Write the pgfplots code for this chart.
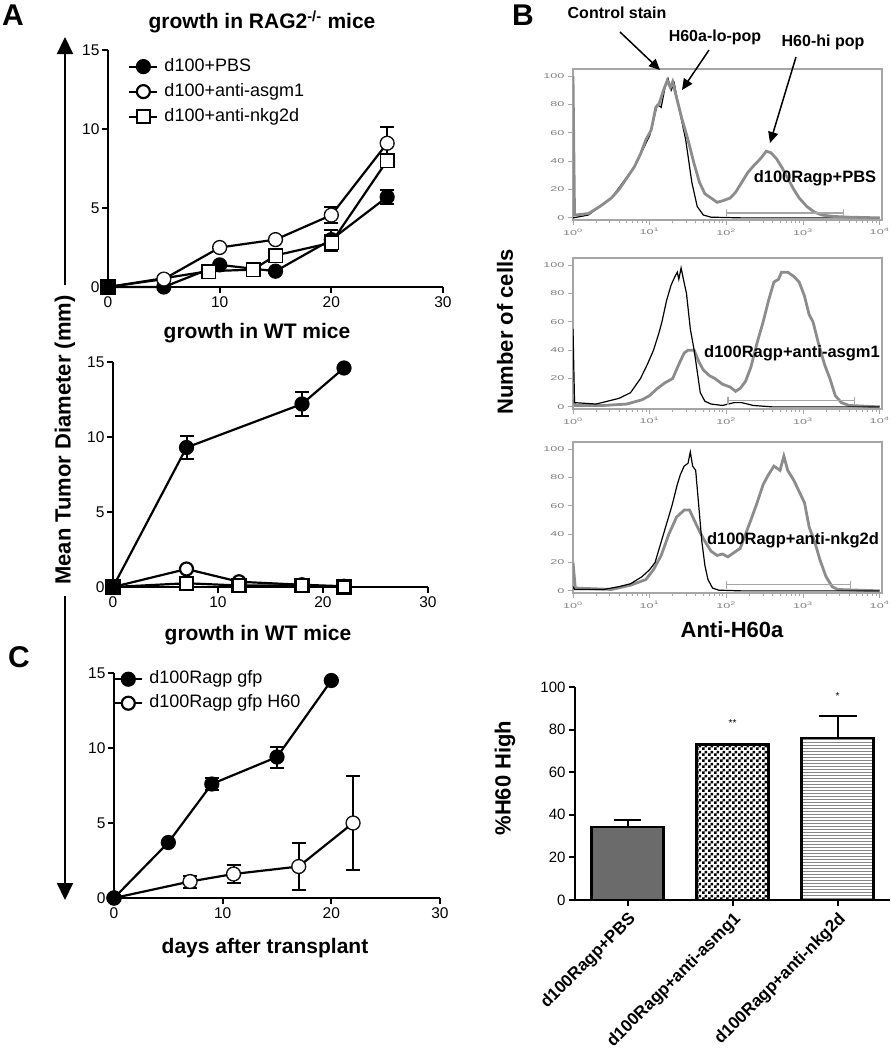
\documentclass[border=0pt]{standalone}
\usepackage{fontspec}
\setmainfont{Liberation Sans}
\usepackage{graphicx}
\usepackage{pgfplots}
\pgfplotsset{compat=1.18}
\usetikzlibrary{arrows.meta,patterns}

\pgfdeclarepatternformonly{mychecker}{\pgfpointorigin}{\pgfqpoint{6pt}{6pt}}{\pgfqpoint{6pt}{6pt}}{%
  \pgfpathrectangle{\pgfpointorigin}{\pgfqpoint{3pt}{3pt}}%
  \pgfpathrectangle{\pgfqpoint{3pt}{3pt}}{\pgfqpoint{3pt}{3pt}}%
  \pgfusepath{fill}}
\pgfdeclarepatternformonly{myhlines}{\pgfqpoint{-1pt}{-1pt}}{\pgfqpoint{4pt}{4pt}}{\pgfqpoint{3pt}{3pt}}{%
  \pgfsetlinewidth{1.6pt}%
  \pgfpathmoveto{\pgfqpoint{0pt}{1.5pt}}\pgfpathlineto{\pgfqpoint{3pt}{1.5pt}}%
  \pgfusepath{stroke}}

\pgfplotsset{
  growth/.style={
    scale only axis, axis lines*=left, enlargelimits=false, clip=false,
    xmin=0, xmax=30, ymin=0, ymax=15,
    xtick={0,10,20,30}, ytick={0,5,10,15},
    tick align=outside, major tick length=6pt,
    axis line style={-, line width=2.2pt},
    tick style={line width=2pt, black},
    ticklabel style={font=\fontsize{15.5}{16}\selectfont},
    yticklabel style={xshift=1pt},
    /pgf/number format/assume math mode=true,
    legend cell align=left,
    legend image code/.code={\draw[mark repeat=2,mark phase=2,##1] plot coordinates {(0pt,0pt) (14pt,0pt) (28pt,0pt)};},
  },
  ser/.style={black, line width=2.2pt, mark size=6.5pt,
    mark options={line width=1.8pt, solid},
    error bars/y dir=both, error bars/y explicit,
    error bars/error bar style={line width=2pt, black},
    error bars/error mark options={rotate=90, mark size=7pt, line width=2pt, black}},
  mk/.style={black, only marks, forget plot, mark size=6.5pt, mark options={line width=1.8pt, solid}},
  filled/.style={mark=*, mark options={fill=black}},
  opencirc/.style={mark=*, mark options={fill=white}},
  opensq/.style={mark=square*, mark options={fill=white}},
  flow/.style={
    scale only axis, width=309pt, height=151pt,
    xmin=0, xmax=4.03, ymin=-1.5, ymax=105,
    axis line style={gray!70, line width=1.5pt},
    xtick={0,1,2,3,4},
    xticklabels={\scalebox{1.8}[1]{10\textsuperscript{0}},\scalebox{1.8}[1]{10\textsuperscript{1}},\scalebox{1.8}[1]{10\textsuperscript{2}},\scalebox{1.8}[1]{10\textsuperscript{3}},\scalebox{1.8}[1]{10\textsuperscript{4}}},
    ytick={0,20,40,60,80,100},
    yticklabels={\scalebox{1.8}[1]{0},\scalebox{1.8}[1]{20},\scalebox{1.8}[1]{40},\scalebox{1.8}[1]{60},\scalebox{1.8}[1]{80},\scalebox{1.8}[1]{100}},
    minor xtick={0.301,0.477,0.602,0.699,0.778,0.845,0.903,0.954,
      1.301,1.477,1.602,1.699,1.778,1.845,1.903,1.954,
      2.301,2.477,2.602,2.699,2.778,2.845,2.903,2.954,
      3.301,3.477,3.602,3.699,3.778,3.845,3.903,3.954},
    tick align=outside, xtick pos=left, ytick pos=left,
    major tick length=5pt, minor tick length=2.5pt,
    tick style={gray!70, line width=0.8pt},
    ticklabel style={font=\fontsize{7}{8}\selectfont, text=gray},
  },
  ctrl/.style={black, line width=1.2pt},
  samp/.style={gray!90, line width=2.8pt},
  gate/.style={gray!70, line width=1.5pt},
}

\begin{document}
\begin{tikzpicture}
\useasboundingbox (0,0) rectangle (895pt,-1050pt);

% ---------------- Panel A top
\begin{axis}[growth, at={(108pt,-287pt)}, anchor=south west, width=335pt, height=237pt,
  legend style={at={(0.06,0.975)}, anchor=north west, draw=none, fill=none, inner sep=0pt,
    row sep=4pt, column sep=4pt, font=\fontsize{18}{20}\selectfont,
    nodes={inner sep=2pt, text depth=4pt, text height=13pt}}]
\addplot[ser, filled] coordinates {(0,0) +- (0,0) (5,0) +- (0,0) (10,1.4) +- (0,0.1) (15,1.0) +- (0,0.1) (20,3.0) +- (0,0.6) (25,5.7) +- (0,0.45)};
\addlegendentry{d100+PBS}
\addplot[ser, opencirc] coordinates {(0,0) +- (0,0) (5,0.5) +- (0,0.1) (10,2.5) +- (0,0.1) (15,3.0) +- (0,0.1) (20,4.55) +- (0,0.5) (25,9.1) +- (0,1.0)};
\addlegendentry{d100+anti-asgm1}
\addplot[ser, opensq] coordinates {(0,0) +- (0,0) (9,1.0) +- (0,0.1) (13,1.1) +- (0,0.1) (15,2.0) +- (0,0.2) (20,2.8) +- (0,0.5) (25,8.0) +- (0,0.4)};
\addlegendentry{d100+anti-nkg2d}
\addplot[mk, opencirc] coordinates {(5,0.5) (10,2.5) (15,3.0) (20,4.55) (25,9.1)};
\addplot[mk, opensq] coordinates {(9,1.0) (13,1.1) (15,2.0) (20,2.8) (25,8.0)};
\addplot[mk, filled] coordinates {(0,0)};
\end{axis}

% ---------------- Panel A middle
\begin{axis}[growth, at={(113pt,-587pt)}, anchor=south west, width=315pt, height=225pt]
\addplot[ser, filled] coordinates {(0,0) +- (0,0) (7,9.3) +- (0,0.75) (18,12.2) +- (0,0.8) (22,14.6) +- (0,0.1)};
\addplot[ser, opencirc] coordinates {(0,0) +- (0,0) (7,1.2) +- (0,0.1) (12,0.35) +- (0,0.1) (18,0.15) +- (0,0.05) (22,0.05) +- (0,0.05)};
\addplot[ser, opensq] coordinates {(0,0) +- (0,0) (7,0.25) +- (0,0.1) (12,0.1) +- (0,0.05) (18,0.1) +- (0,0.05) (22,0.0) +- (0,0.05)};
\addplot[mk, filled] coordinates {(0,0)};
\end{axis}

% ---------------- Panel C
\begin{axis}[growth, at={(114pt,-898pt)}, anchor=south west, width=326pt, height=225pt,
  legend style={at={(-0.003,1.02)}, anchor=north west, draw=none, fill=none, inner sep=0pt,
    row sep=3pt, column sep=4pt, font=\fontsize{18}{20}\selectfont,
    nodes={inner sep=2pt, text depth=4pt, text height=13pt}}]
\addplot[ser, filled] coordinates {(0,0) +- (0,0) (5,3.7) +- (0,0.1) (9,7.6) +- (0,0.4) (15,9.4) +- (0,0.7) (20,14.5) +- (0,0.1)};
\addlegendentry{d100Ragp gfp}
\addplot[ser, opencirc] coordinates {(0,0) +- (0,0) (7,1.1) +- (0,0.4) (11,1.6) +- (0,0.6) (17,2.1) +- (0,1.55) (22,5.0) +- (0,3.15)};
\addlegendentry{d100Ragp gfp H60}
\addplot[mk, opencirc] coordinates {(7,1.1) (11,1.6) (17,2.1) (22,5.0)};
\addplot[mk, filled] coordinates {(0,0)};
\end{axis}

% ---------------- Panel B flow 1
\begin{axis}[flow, at={(573pt,-220pt)}, anchor=south west]
\addplot[ctrl] coordinates {(0,0) (0.2,2) (0.5,14) (0.8,36) (1.0,58) (1.1,80) (1.15,78) (1.2,92) (1.24,98) (1.28,90) (1.32,95) (1.38,78) (1.47,55) (1.55,25) (1.62,8) (1.7,2) (1.8,0.5) (2.2,0) (4,0)};
\addplot[samp] coordinates {(0,100) (0.02,2) (0.2,3) (0.35,8) (0.5,14) (0.6,20) (0.7,28) (0.8,36) (0.88,45) (0.95,55) (1.02,62) (1.08,78) (1.12,80) (1.18,90) (1.23,97) (1.27,92) (1.3,96) (1.35,85) (1.42,70) (1.5,55) (1.58,38) (1.65,25) (1.72,17) (1.8,14) (1.88,11) (1.95,12) (2.05,14) (2.12,18) (2.2,25) (2.28,32) (2.36,37) (2.45,42) (2.52,47) (2.58,46) (2.65,42) (2.72,36) (2.8,28) (2.88,20) (2.95,14) (3.05,8) (3.15,4) (3.25,2) (3.4,1) (3.6,0.5) (4,0)};
\addplot[gate] coordinates {(2.0,1) (2.0,6) (2.0,3.5) (3.53,3.5) (3.53,6) (3.53,1)};
\end{axis}

% ---------------- Panel B flow 2
\begin{axis}[flow, at={(573pt,-409pt)}, anchor=south west]
\addplot[samp] coordinates {(0,5) (0.03,1) (0.4,1) (0.7,2) (0.9,5) (1.0,8) (1.1,13) (1.2,17) (1.3,20) (1.38,30) (1.45,38) (1.5,40) (1.58,40) (1.64,32) (1.7,26) (1.78,22) (1.85,20) (1.95,16) (2.05,14) (2.12,11) (2.18,13) (2.25,18) (2.32,28) (2.4,45) (2.48,60) (2.55,75) (2.62,88) (2.68,90) (2.72,95) (2.8,95) (2.88,92) (2.95,88) (3.02,78) (3.08,65) (3.13,60) (3.2,45) (3.28,30) (3.35,20) (3.42,8) (3.5,3) (3.6,1) (4,0)};
\addplot[ctrl] coordinates {(0,55) (0.02,3) (0.3,2) (0.6,6) (0.75,10) (0.88,20) (0.97,30) (1.05,40) (1.12,52) (1.16,60) (1.22,75) (1.28,86) (1.33,92) (1.36,95) (1.38,90) (1.41,98) (1.44,90) (1.48,80) (1.53,55) (1.58,40) (1.62,25) (1.66,10) (1.72,4) (1.8,2) (1.95,1) (2.1,3) (2.2,3) (2.35,1) (2.6,0) (4,0)};
\addplot[gate] coordinates {(2.02,1.5) (2.02,7) (2.02,4.5) (3.67,4.5) (3.67,7) (3.67,1.5)};
\end{axis}

% ---------------- Panel B flow 3
\begin{axis}[flow, at={(573pt,-593pt)}, anchor=south west]
\addplot[samp] coordinates {(0,20) (0.03,2) (0.5,1) (0.75,4) (0.95,8) (1.05,15) (1.15,25) (1.25,40) (1.35,52) (1.45,57) (1.52,57) (1.58,50) (1.65,42) (1.72,35) (1.8,28) (1.88,25) (1.95,26) (2.02,24) (2.1,27) (2.18,30) (2.25,40) (2.32,50) (2.4,62) (2.48,75) (2.55,82) (2.62,88) (2.7,85) (2.75,95) (2.8,85) (2.88,78) (2.95,70) (3.02,62) (3.08,45) (3.15,35) (3.22,22) (3.3,10) (3.38,3) (3.45,1) (4,0)};
\addplot[ctrl] coordinates {(0,3) (0.02,1) (0.4,1) (0.6,3) (0.75,5) (0.9,10) (1.0,15) (1.07,20) (1.18,40) (1.29,60) (1.36,75) (1.4,82) (1.45,88) (1.5,90) (1.53,98) (1.56,88) (1.6,85) (1.64,60) (1.68,35) (1.72,18) (1.76,8) (1.82,2) (1.9,0.5) (2.2,0) (4,0)};
\addplot[gate] coordinates {(2.0,1.5) (2.0,7) (2.0,4.5) (3.62,4.5) (3.62,7) (3.62,1.5)};
\end{axis}

% ---------------- Panel B bar chart
\begin{axis}[scale only axis, at={(575pt,-900pt)}, anchor=south west, width=315pt, height=213pt,
  axis lines*=left, axis line style={-, line width=2.2pt}, enlargelimits=false, clip=false,
  xmin=-0.5, xmax=2.5, ymin=0, ymax=100, ytick={0,20,40,60,80,100}, xtick={0,1,2},
  xticklabels={d100Ragp+PBS, d100Ragp+anti-asmg1, d100Ragp+anti-nkg2d},
  xticklabel style={rotate=45, anchor=north east, font=\bfseries\fontsize{17}{18}\selectfont},
  yticklabel style={font=\fontsize{15}{16}\selectfont},
  /pgf/number format/assume math mode=true,
  tick align=outside, major tick length=6pt, tick style={line width=2pt, black}]
\addplot[ybar, bar width=72pt, bar shift=0pt, draw=black, line width=2.2pt, fill=black!58,
  error bars/.cd, y dir=plus, y explicit, error bar style={line width=2pt, black},
  error mark options={rotate=90, mark size=13.5pt, line width=2pt, black}]
  coordinates {(0,34.3) +- (0,3.2)};
\addplot[ybar, bar width=72pt, bar shift=0pt, draw=black, line width=2.2pt, pattern=mychecker, pattern color=black]
  coordinates {(1,73)};
\addplot[ybar, bar width=72pt, bar shift=0pt, draw=black, line width=2.2pt, pattern=myhlines, pattern color=gray!95,
  error bars/.cd, y dir=plus, y explicit, error bar style={line width=2pt, black},
  error mark options={rotate=90, mark size=19pt, line width=2pt, black}]
  coordinates {(2,76) +- (0,10.4)};
\node[font=\fontsize{10}{10}\selectfont] at (axis cs:1,83) {**};
\node[font=\fontsize{10}{10}\selectfont] at (axis cs:2,95.8) {*};
\end{axis}

% ---------------- Text and annotations
\begin{scope}[x=1pt, y=-1pt]
\node[font=\bfseries\fontsize{30}{30}\selectfont] at (13,15) {A};
\node[font=\bfseries\fontsize{30}{30}\selectfont] at (523,15) {B};
\node[font=\bfseries\fontsize{30}{30}\selectfont] at (19,657) {C};
\node[font=\bfseries\fontsize{21}{24}\selectfont] at (262,22) {growth in RAG2\textsuperscript{-/-} mice};
\node[font=\bfseries\fontsize{21}{24}\selectfont] at (257,333) {growth in WT mice};
\node[font=\bfseries\fontsize{21}{24}\selectfont] at (258,635) {growth in WT mice};
\node[font=\bfseries\fontsize{21}{24}\selectfont] at (265,948) {days after transplant};
\node[font=\bfseries\fontsize{22}{24}\selectfont, rotate=90] at (65,440) {Mean Tumor Diameter (mm)};
\draw[line width=2pt, -{Triangle[length=17pt,width=16pt]}] (65,285) -- (65,37);
\draw[line width=2pt, -{Triangle[length=17pt,width=16pt]}] (65,596) -- (65,900);
\node[font=\bfseries\fontsize{16}{18}\selectfont] at (617,13) {Control stain};
\node[font=\bfseries\fontsize{16}{18}\selectfont] at (715,37) {H60a-lo-pop};
\node[font=\bfseries\fontsize{16}{18}\selectfont] at (823,42) {H60-hi pop};
\draw[line width=1.5pt, -{Triangle[length=11pt,width=10pt]}] (620,32) -- (660,70);
\draw[line width=1.5pt, -{Triangle[length=11pt,width=10pt]}] (709,50) -- (682,90);
\draw[line width=1.5pt, -{Triangle[length=11pt,width=10pt]}] (796,57) -- (770,143);
\node[font=\bfseries\fontsize{16.5}{18}\selectfont] at (815,178) {d100Ragp+PBS};
\node[font=\bfseries\fontsize{16.5}{18}\selectfont] at (792,353) {d100Ragp+anti-asgm1};
\node[font=\bfseries\fontsize{16.5}{18}\selectfont] at (793,540) {d100Ragp+anti-nkg2d};
\node[font=\bfseries\fontsize{22}{24}\selectfont, rotate=90] at (505,332) {Number of cells};
\node[font=\bfseries\fontsize{22}{24}\selectfont] at (732,630) {Anti-H60a};
\node[font=\bfseries\fontsize{22}{24}\selectfont, rotate=90] at (505,778) {\%H60 High};
\end{scope}
\end{tikzpicture}
\end{document}
